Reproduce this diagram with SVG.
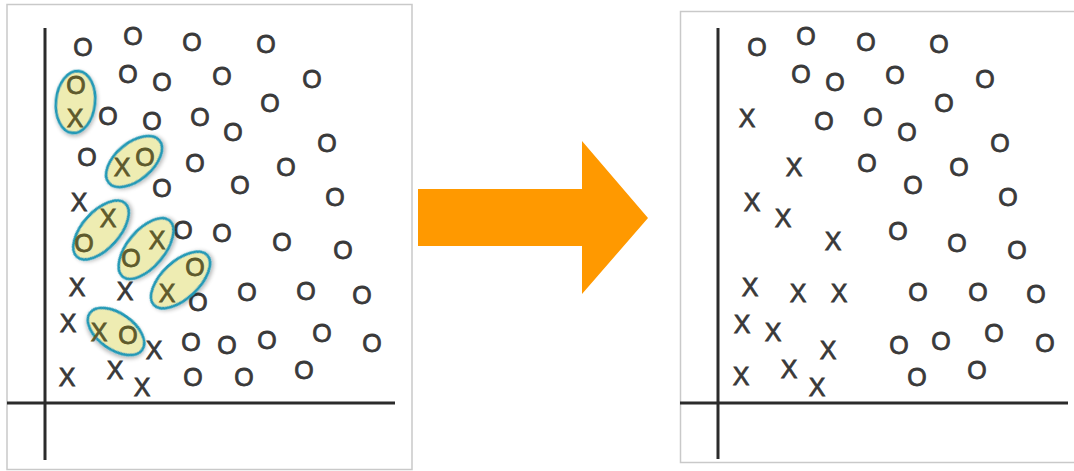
<svg xmlns="http://www.w3.org/2000/svg" width="1074" height="471" viewBox="0 0 1074 471">
<defs>
<style>
.panel{fill:#ffffff;stroke:#c9c9c9;stroke-width:1.5}
.axis{stroke:#2b2b2b;stroke-width:3;fill:none;stroke-linecap:butt}
.m{font-family:"Liberation Sans",Arial,sans-serif;font-size:25px;fill:#393939;stroke:#393939;stroke-width:0.8;text-anchor:middle}
.mi{font-family:"Liberation Sans",Arial,sans-serif;font-size:25px;fill:#5e5a2c;stroke:#5e5a2c;stroke-width:0.8;text-anchor:middle}
.cl{fill:#eeecb2;stroke:#2299b6;stroke-width:2.8;filter:url(#sh)}
.arrow{fill:#ff9900}
</style>
<filter id="sh" x="-30%" y="-30%" width="160%" height="160%">
<feGaussianBlur in="SourceAlpha" stdDeviation="2"/>
<feOffset dx="1" dy="1.5" result="b"/>
<feComponentTransfer><feFuncA type="linear" slope="0.3"/></feComponentTransfer>
<feMerge><feMergeNode/><feMergeNode in="SourceGraphic"/></feMerge>
</filter>
</defs>
<rect width="1074" height="471" fill="#ffffff"/>

<g id="panel-left">
<rect class="panel" x="7" y="4.5" width="405" height="465"/>
<line class="axis" x1="45" y1="28" x2="45" y2="460"/>
<line class="axis" x1="7" y1="403" x2="395" y2="403"/>
<g id="left-o">
<text class="m" x="83" y="56">O</text>
<text class="m" x="133" y="45">O</text>
<text class="m" x="192" y="51">O</text>
<text class="m" x="266" y="53">O</text>
<text class="m" x="128" y="83">O</text>
<text class="m" x="162" y="91">O</text>
<text class="m" x="222" y="85">O</text>
<text class="m" x="312" y="88">O</text>
<text class="m" x="108" y="125">O</text>
<text class="m" x="152" y="130">O</text>
<text class="m" x="200" y="126">O</text>
<text class="m" x="233" y="141">O</text>
<text class="m" x="270" y="112">O</text>
<text class="m" x="327" y="152">O</text>
<text class="m" x="87" y="166">O</text>
<text class="m" x="195" y="172">O</text>
<text class="m" x="286" y="176">O</text>
<text class="m" x="240" y="194">O</text>
<text class="m" x="162" y="197">O</text>
<text class="m" x="335" y="206">O</text>
<text class="m" x="183" y="239">O</text>
<text class="m" x="222" y="242">O</text>
<text class="m" x="282" y="251">O</text>
<text class="m" x="343" y="259">O</text>
<text class="m" x="198" y="311">O</text>
<text class="m" x="247" y="301">O</text>
<text class="m" x="306" y="300">O</text>
<text class="m" x="362" y="304">O</text>
<text class="m" x="191" y="351">O</text>
<text class="m" x="227" y="354">O</text>
<text class="m" x="267" y="349">O</text>
<text class="m" x="322" y="342">O</text>
<text class="m" x="372" y="352">O</text>
<text class="m" x="193" y="386">O</text>
<text class="m" x="244" y="386">O</text>
<text class="m" x="304" y="379">O</text>
</g>
<g id="left-x">
<text class="m" x="79" y="211">X</text>
<text class="m" x="77" y="296">X</text>
<text class="m" x="125" y="300">X</text>
<text class="m" x="68" y="332">X</text>
<text class="m" x="154" y="359">X</text>
<text class="m" x="67" y="386">X</text>
<text class="m" x="115" y="379">X</text>
<text class="m" x="142" y="396">X</text>
</g>
<g id="cluster-1">
<ellipse class="cl" cx="75.5" cy="102" rx="19.5" ry="31" transform="rotate(6 75.5 102)"/>
<text class="mi" x="76" y="94">O</text>
<text class="mi" x="75" y="127">X</text>
</g>
<g id="cluster-2">
<ellipse class="cl" cx="134" cy="161.5" rx="33" ry="18.5" transform="rotate(-40 134 161.5)"/>
<text class="mi" x="122" y="176">X</text>
<text class="mi" x="145" y="166">O</text>
</g>
<g id="cluster-3">
<ellipse class="cl" cx="101" cy="230" rx="36" ry="18.5" transform="rotate(-48 101 230)"/>
<text class="mi" x="108" y="227">X</text>
<text class="mi" x="84" y="252">O</text>
</g>
<g id="cluster-4">
<ellipse class="cl" cx="146" cy="248.5" rx="36.5" ry="18.5" transform="rotate(-50 146 248.5)"/>
<text class="mi" x="157" y="249">X</text>
<text class="mi" x="131" y="267">O</text>
</g>
<g id="cluster-5">
<ellipse class="cl" cx="180.5" cy="280" rx="36.5" ry="18.5" transform="rotate(-43 180.5 280)"/>
<text class="mi" x="195" y="276">O</text>
<text class="mi" x="167" y="302">X</text>
</g>
<g id="cluster-6">
<ellipse class="cl" cx="116" cy="331.5" rx="32" ry="18" transform="rotate(35 116 331.5)"/>
<text class="mi" x="99" y="341">X</text>
<text class="mi" x="128" y="344">O</text>
</g>
</g>

<g id="connectors">
<polygon class="arrow" points="418,189 582,189 582,141 648,218 582,294 582,246 418,246"/>
</g>

<g id="panel-right">
<rect class="panel" x="680.5" y="11.5" width="400" height="451"/>
<line class="axis" x1="718" y1="28" x2="718" y2="459"/>
<line class="axis" x1="680" y1="403" x2="1068" y2="403"/>
<g id="right-o">
<text class="m" x="757" y="56">O</text>
<text class="m" x="806" y="45">O</text>
<text class="m" x="866" y="51">O</text>
<text class="m" x="939" y="53">O</text>
<text class="m" x="801" y="83">O</text>
<text class="m" x="835" y="91">O</text>
<text class="m" x="895" y="84">O</text>
<text class="m" x="985" y="88">O</text>
<text class="m" x="824" y="130">O</text>
<text class="m" x="873" y="126">O</text>
<text class="m" x="907" y="141">O</text>
<text class="m" x="944" y="112">O</text>
<text class="m" x="1000" y="152">O</text>
<text class="m" x="867" y="172">O</text>
<text class="m" x="959" y="176">O</text>
<text class="m" x="913" y="194">O</text>
<text class="m" x="1008" y="206">O</text>
<text class="m" x="898" y="240">O</text>
<text class="m" x="957" y="252">O</text>
<text class="m" x="1017" y="259">O</text>
<text class="m" x="918" y="301">O</text>
<text class="m" x="978" y="301">O</text>
<text class="m" x="1036" y="303">O</text>
<text class="m" x="899" y="354">O</text>
<text class="m" x="941" y="350">O</text>
<text class="m" x="994" y="342">O</text>
<text class="m" x="1045" y="352">O</text>
<text class="m" x="917" y="386">O</text>
<text class="m" x="977" y="379">O</text>
</g>
<g id="right-x">
<text class="m" x="747" y="127">X</text>
<text class="m" x="794" y="176">X</text>
<text class="m" x="752" y="211">X</text>
<text class="m" x="783" y="227">X</text>
<text class="m" x="833" y="250">X</text>
<text class="m" x="750" y="296">X</text>
<text class="m" x="798" y="302">X</text>
<text class="m" x="839" y="302">X</text>
<text class="m" x="742" y="333">X</text>
<text class="m" x="773" y="341">X</text>
<text class="m" x="828" y="359">X</text>
<text class="m" x="741" y="385">X</text>
<text class="m" x="789" y="378">X</text>
<text class="m" x="817" y="396">X</text>
</g>
</g>
</svg>
